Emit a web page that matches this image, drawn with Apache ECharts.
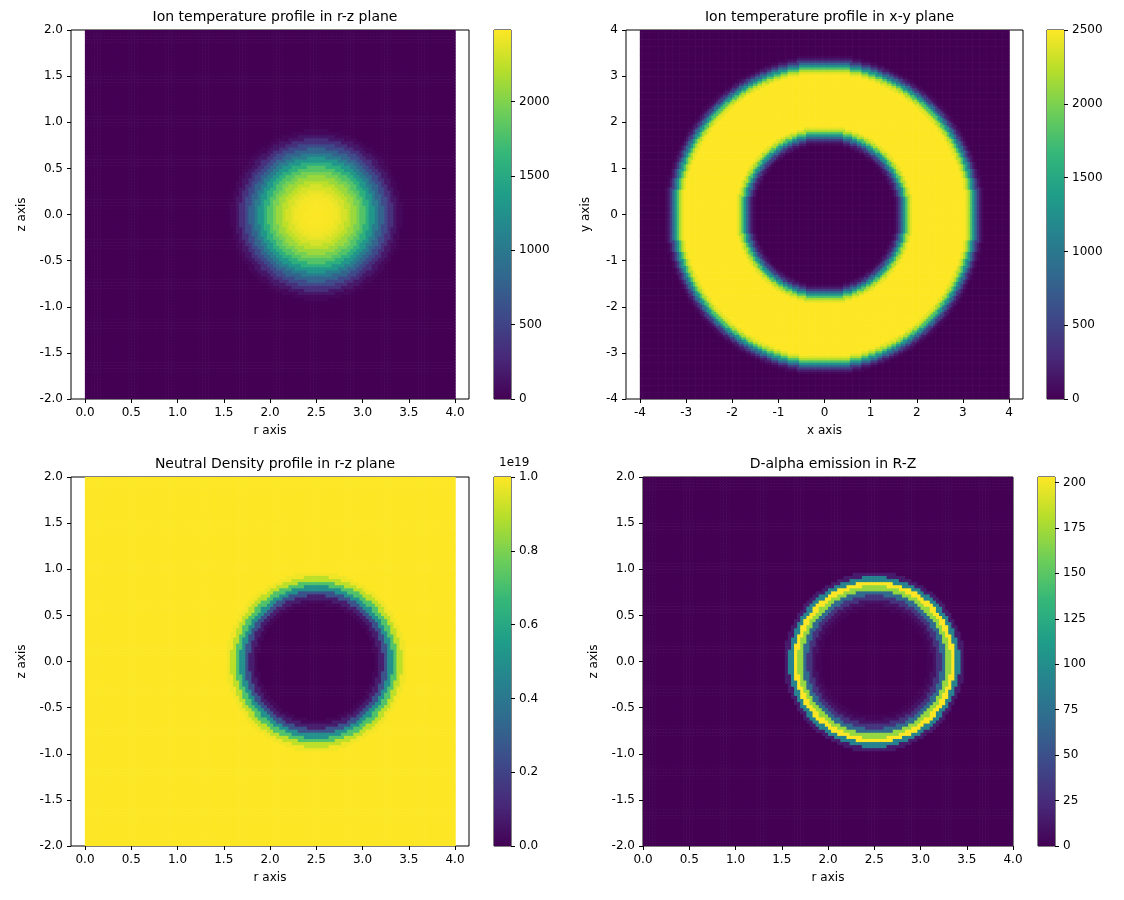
<!DOCTYPE html>
<html>
<head>
<meta charset="utf-8">
<script src="https://cdn.jsdelivr.net/npm/echarts@6/dist/echarts.min.js"></script>
<style>html,body{margin:0;background:#fff}#chart{width:1124px;height:900px}</style>
</head>
<body>
<div id="chart"></div>
<script>
const profileStep = 0.05;
const ionTempRZ = [2480, 2478, 2470, 2460, 2440, 2400, 2330, 2230, 2100, 1960, 1800, 1560, 1300, 1040, 790, 550, 330, 150, 50, 10, 0];
const ionTempXY = [2500, 2500, 2500, 2500, 2500, 2500, 2500, 2500, 2500, 2500, 2500, 2500, 2400, 2200, 1800, 1300, 850, 450, 180, 50, 0];
const neutralDensity = [0, 0, 0, 0, 0, 0, 0, 0, 0, 0, 0, 0, 0, 0.02, 0.08, 0.25, 0.5, 0.72, 0.9, 0.98, 1];
const dAlpha = [0, 0, 0, 0, 0, 0, 0, 0, 0, 0, 0, 0, 3, 10, 30, 70, 170, 203, 90, 15, 0];
const ringCentre = 2.5;

const viridis = ["#440154", "#482878", "#3e4989", "#31688e", "#26828e", "#1f9e89", "#35b779", "#6ece58", "#b5de2b", "#fde725"];

function lookup(profile, d) {
  const i = Math.round(d / profileStep);
  return i < profile.length ? profile[i] : profile[profile.length - 1];
}

function buildCells(x0, x1, y0, y1, n, distFn, profile) {
  const cells = [];
  const dx = (x1 - x0) / n, dy = (y1 - y0) / n;
  for (let i = 0; i < n; i++) {
    for (let j = 0; j < n; j++) {
      const x = x0 + (i + 0.5) * dx, y = y0 + (j + 0.5) * dy;
      cells.push([x, y, lookup(profile, distFn(x, y))]);
    }
  }
  return { cells, dx, dy };
}

const rzDist = (r, z) => Math.hypot(r - ringCentre, z);
const xyDist = (x, y) => Math.abs(Math.hypot(x, y) - ringCentre);

const panels = [
  { title: "Ion temperature profile in r-z plane", box: [71, 30, 398, 369], ticks: [85, 370], range: [-0.15, 4.15, -2, 2], tick: [0, 4, 0.5, 0.5], dec: [1, 1], names: ["r axis", "z axis"],
    field: buildCells(0, 4, -2, 2, 120, rzDist, ionTempRZ), cb: [494, 0, 2480, 500, 0, false] },
  { title: "Ion temperature profile in x-y plane", box: [626, 30, 397, 369], ticks: [640, 369], range: [-4.3, 4.3, -4, 4], tick: [-4, 4, 1, 1], dec: [0, 0], names: ["x axis", "y axis"],
    field: buildCells(-4, 4, -4, 4, 160, xyDist, ionTempXY), cb: [1047, 0, 2500, 500, 0, true] },
  { title: "Neutral Density profile in r-z plane", box: [71, 477, 398, 369], ticks: [85, 370], range: [-0.15, 4.15, -2, 2], tick: [0, 4, 0.5, 0.5], dec: [1, 1], names: ["r axis", "z axis"],
    field: buildCells(0, 4, -2, 2, 120, rzDist, neutralDensity), cb: [494, 0, 1, 0.2, 1, true] },
  { title: "D-alpha emission in R-Z", box: [643, 477, 370, 369], ticks: [643, 370], range: [0, 4, -2, 2], tick: [0, 4, 0.5, 0.5], dec: [1, 1], names: ["r axis", "z axis"],
    field: buildCells(0, 4, -2, 2, 120, rzDist, dAlpha), cb: [1038, 0, 203, 25, 0, false] },
];

const font = { color: "#000", fontSize: 12, fontFamily: "DejaVu Sans" };
const tickStyle = { show: true, length: 4, lineStyle: { color: "#000" } };
const grid = [], xAxis = [], yAxis = [], series = [], visualMap = [], title = [];

panels.forEach((p) => {
  const [l, t, w, h] = p.box;
  const g = grid.length;
  // main box
  grid.push({ left: l, top: t, width: w, height: h, show: true, borderColor: "#000", borderWidth: 1, backgroundColor: "transparent" });
  xAxis.push({ gridIndex: g, type: "value", min: p.range[0], max: p.range[1], show: false });
  yAxis.push({ gridIndex: g, type: "value", min: p.range[2], max: p.range[3], interval: p.tick[3],
    axisLine: { show: false, onZero: false }, axisTick: tickStyle,
    axisLabel: { ...font, formatter: (v) => v.toFixed(p.dec[1]) }, splitLine: { show: false },
    name: p.names[1], nameLocation: "middle", nameGap: p.dec[1] ? 43 : 34, nameTextStyle: font });
  // tick overlay
  grid.push({ left: p.ticks[0], top: t, width: p.ticks[1], height: h });
  xAxis.push({ gridIndex: g + 1, type: "value", min: p.tick[0], max: p.tick[1], interval: p.tick[2],
    axisLine: { show: false, onZero: false }, axisTick: tickStyle,
    axisLabel: { ...font, formatter: (v) => v.toFixed(p.dec[0]) }, splitLine: { show: false },
    name: p.names[0], nameLocation: "middle", nameGap: 26, nameTextStyle: font });
  yAxis.push({ gridIndex: g + 1, type: "value", min: p.range[2], max: p.range[3], show: false });
  // colorbar
  const [cl, cmin, cmax, cint, cdec, showMax] = p.cb;
  grid.push({ left: cl, top: t, width: 17, height: h, show: true, borderColor: "#000", borderWidth: 1, backgroundColor: "transparent" });
  xAxis.push({ gridIndex: g + 2, type: "value", min: 0, max: 1, show: false });
  yAxis.push({ gridIndex: g + 2, type: "value", min: cmin, max: cmax, interval: cint, position: "right",
    axisLine: { show: false, onZero: false }, axisTick: tickStyle,
    axisLabel: { ...font, showMaxLabel: showMax, formatter: (v) => v.toFixed(cdec) }, splitLine: { show: false } });

  const cw = p.field.dx, ch = p.field.dy;
  series.push({
    type: "custom", xAxisIndex: g, yAxisIndex: g, data: p.field.cells, clip: true, animation: false, silent: true,
    progressive: 0, z: 1,
    renderItem: (params, api) => {
      const c = api.coord([api.value(0), api.value(1)]);
      const s = api.size([cw, ch]);
      return { type: "rect", shape: { x: c[0] - s[0] / 2, y: c[1] - s[1] / 2, width: s[0] + 0.6, height: s[1] + 0.6 }, style: { fill: api.visual("color") } };
    },
  });
  visualMap.push({ show: false, type: "continuous", seriesIndex: series.length - 1, dimension: 2, min: cmin, max: cmax, inRange: { color: viridis } });
  series.push({
    type: "custom", xAxisIndex: g + 2, yAxisIndex: g + 2, data: [[0, cmin, 1, cmax]], animation: false, silent: true, z: 1,
    renderItem: (params, api) => {
      const a = api.coord([0, cmax]), b = api.coord([1, cmin]);
      return { type: "rect", shape: { x: a[0], y: a[1], width: b[0] - a[0], height: b[1] - a[1] },
        style: { fill: new echarts.graphic.LinearGradient(0, 1, 0, 0, viridis.map((c, i) => ({ offset: i / (viridis.length - 1), color: c }))) } };
    },
  });
  title.push({ text: p.title, left: l + w / 2, top: t - 25, textAlign: "center", textStyle: { ...font, fontSize: 14, fontWeight: "normal" } });
});
title.push({ text: "1e19", left: 494, top: 452, textStyle: { ...font, fontWeight: "normal" } });

const chart = echarts.init(document.getElementById("chart"));
chart.setOption({ animation: false, title, grid, xAxis, yAxis, visualMap, series });
</script>
</body>
</html>
